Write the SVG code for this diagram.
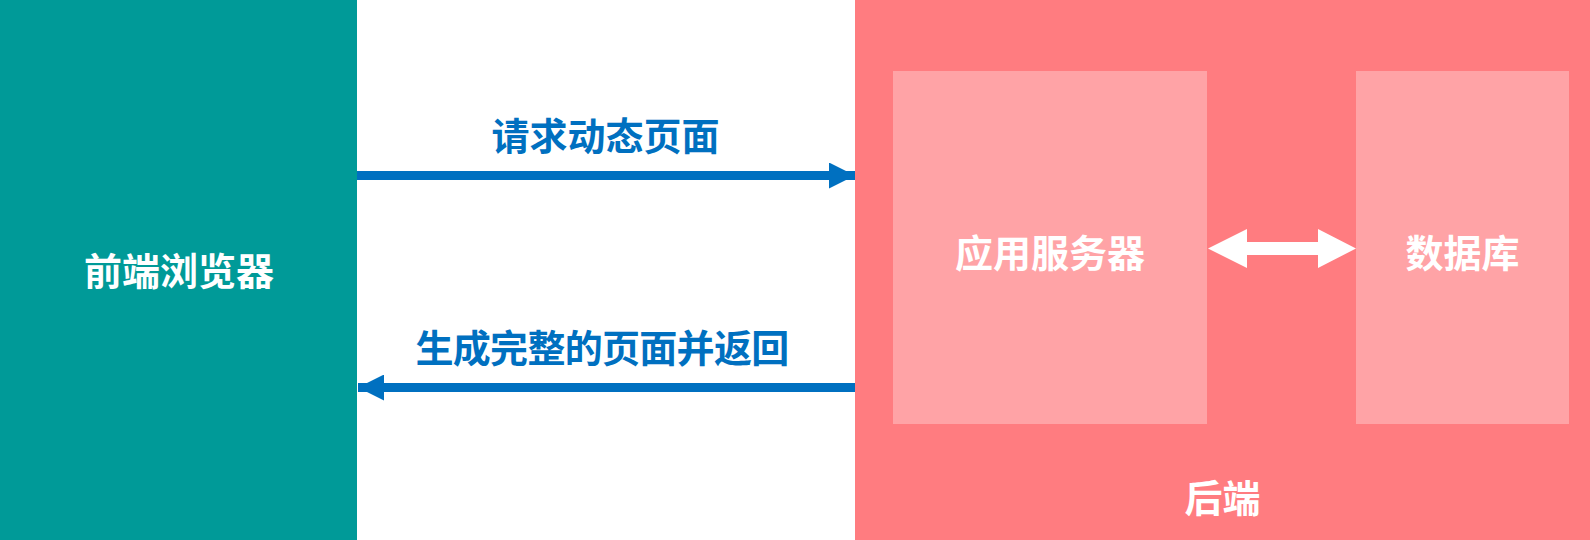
<svg xmlns="http://www.w3.org/2000/svg" width="1590" height="540" viewBox="0 0 1590 540">
<style>
.t{font-family:"Noto Sans CJK SC","Noto Sans",sans-serif;font-weight:bold;font-size:38px;text-anchor:middle;dominant-baseline:central}
.w{fill:#FFFFFF}
.b{fill:#0070C0}
</style>
<defs>
<marker id="ah" viewBox="0 0 26 26" refX="26" refY="13" markerWidth="26" markerHeight="26" markerUnits="userSpaceOnUse" orient="auto">
<path d="M0,0 L26,13 L0,26 Z" fill="#0070C0"/>
</marker>
</defs>
<rect width="1590" height="540" fill="#FFFFFF"/>
<g id="frontend">
<rect x="0" y="0" width="357" height="540" fill="#009A98"/>
<text class="t w" x="179" y="268.5">前端浏览器</text>
</g>
<g id="backend">
<rect x="855" y="0" width="735" height="540" fill="#FF7C80"/>
<text class="t w" x="1222.5" y="495">后端</text>
</g>
<g id="appserver">
<rect x="893" y="71" width="314" height="353" fill="#FFA3A6"/>
<text class="t w" x="1050" y="250">应用服务器</text>
</g>
<g id="database">
<rect x="1356" y="71" width="213" height="353" fill="#FFA3A6"/>
<text class="t w" x="1462.5" y="250">数据库</text>
</g>
<g id="connectors">
<line x1="357" y1="175.5" x2="855" y2="175.5" stroke="#0070C0" stroke-width="9" marker-end="url(#ah)"/>
<text class="t b" x="605.5" y="133">请求动态页面</text>
<line x1="855" y1="387.5" x2="358" y2="387.5" stroke="#0070C0" stroke-width="9" marker-end="url(#ah)"/>
<text class="t b" x="602" y="345" letter-spacing="-0.7">生成完整的页面并返回</text>
<path d="M1208,248.5 L1247,229 L1247,242 L1318,242 L1318,229 L1356,248.5 L1318,268 L1318,255 L1247,255 L1247,268 Z" fill="#FFFFFF"/>
</g>
</svg>
